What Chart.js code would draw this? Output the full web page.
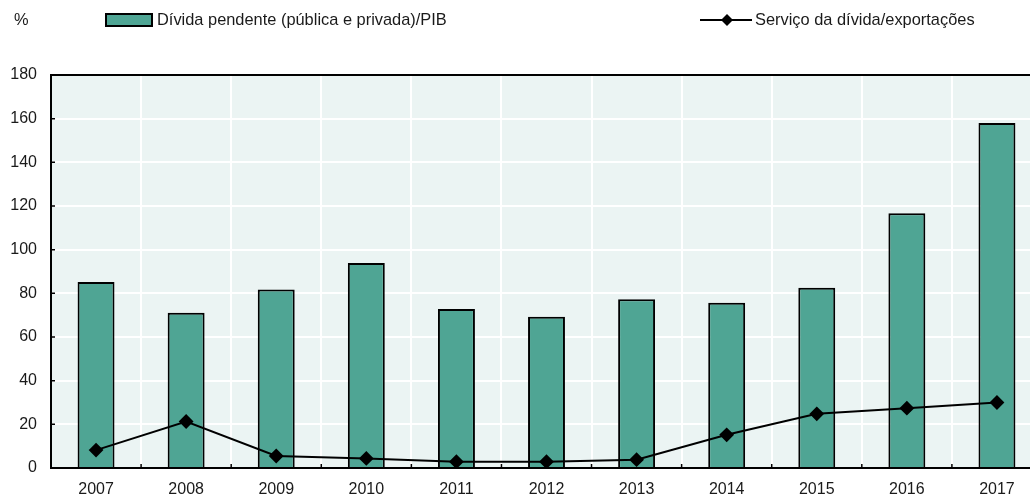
<!DOCTYPE html>
<html>
<head>
<meta charset="utf-8">
<script src="https://cdn.jsdelivr.net/npm/chart.js@4/dist/chart.umd.min.js"></script>
<style>
html,body{margin:0;padding:0;background:#fff;overflow:hidden;}
canvas{display:block;}
</style>
</head>
<body>
<canvas id="c" width="1050" height="498"></canvas>
<script>
// Dívida pendente vs serviço da dívida, 2007-2017
const years = ["2007","2008","2009","2010","2011","2012","2013","2014","2015","2016","2017"];
const debtGdp = [85.2, 71.1, 81.7, 93.9, 72.8, 69.3, 77.3, 75.7, 82.6, 116.7, 158.0];
const debtService = [8.2, 21.3, 5.5, 4.4, 2.9, 2.9, 3.8, 15.2, 24.8, 27.4, 30.0];
const yTicks = {min:0, max:180, step:20};
const labelBar = "Dívida pendente (pública e privada)/PIB";
const labelLine = "Serviço da dívida/exportações";

const FONT = "'Liberation Sans',Arial,sans-serif";
const C = {bar:"#4fa594", bg:"#ebf4f3", ink:"#1a1a1a"};

// plot background, frame lines, inner ticks, and the top legend
const deco = {
  id:"deco",
  beforeDraw(chart) {
    const {ctx, chartArea:a} = chart;
    ctx.save();
    ctx.fillStyle = C.bg;
    ctx.fillRect(a.left, a.top, a.right - a.left, a.bottom - a.top);
    ctx.restore();
  },
  afterDraw(chart) {
    const {ctx, chartArea:a, scales} = chart;
    ctx.save();
    ctx.strokeStyle = "#000";
    ctx.lineWidth = 2;
    ctx.beginPath();
    ctx.moveTo(a.left - 1, a.top); ctx.lineTo(a.right, a.top);
    ctx.stroke();
    // inner tick marks
    ctx.lineWidth = 1.5;
    ctx.beginPath();
    scales.y.ticks.forEach(t => {
      const y = scales.y.getPixelForValue(t.value);
      ctx.moveTo(a.left, y); ctx.lineTo(a.left + 4, y);
    });
    for (let i = 0; i < years.length - 1; i++) {
      const x = (scales.x.getPixelForValue(i) + scales.x.getPixelForValue(i + 1)) / 2;
      ctx.moveTo(x, a.bottom); ctx.lineTo(x, a.bottom - 4);
    }
    ctx.stroke();

    // legend
    ctx.font = "16.4px " + FONT;
    ctx.fillStyle = C.ink;
    ctx.textBaseline = "middle";
    ctx.fillText("%", 14, 20);
    ctx.fillStyle = C.bar;
    ctx.fillRect(106, 14, 46, 12);
    ctx.strokeStyle = "#000";
    ctx.lineWidth = 2;
    ctx.strokeRect(106, 14, 46, 12);
    ctx.fillStyle = C.ink;
    ctx.fillText(labelBar, 157, 20);
    ctx.beginPath();
    ctx.moveTo(700, 20); ctx.lineTo(752, 20);
    ctx.stroke();
    ctx.fillStyle = "#000";
    ctx.beginPath();
    ctx.moveTo(727, 14); ctx.lineTo(733, 20); ctx.lineTo(727, 26); ctx.lineTo(721, 20);
    ctx.closePath(); ctx.fill();
    ctx.fillStyle = C.ink;
    ctx.fillText(labelLine, 755, 20);
    ctx.restore();
  }
};

new Chart(document.getElementById("c"), {
  data:{labels:years, datasets:[
    {type:"line", label:labelLine, data:debtService, order:0,
     borderColor:"#000", borderWidth:2, backgroundColor:"#000",
     pointStyle:"rectRot", pointRadius:6, pointHoverRadius:6, tension:0},
    {type:"bar", label:labelBar, data:debtGdp, order:1,
     backgroundColor:C.bar, borderColor:"#000", borderWidth:2,
     barPercentage:0.41, categoryPercentage:1},
  ]},
  options:{
    responsive:false, animation:false,
    layout:{padding:{top:75, right:0, left:0, bottom:0}},
    plugins:{legend:{display:false}, tooltip:{enabled:false}},
    scales:{
      x:{
        grid:{color:"#fff", lineWidth:2, offset:true, drawTicks:false},
        border:{color:"#000", width:2},
        ticks:{color:C.ink, font:{family:FONT, size:16}, padding:12},
        afterFit:s => { s.height = 30; },
      },
      y:{
        min:yTicks.min, max:yTicks.max,
        grid:{color:"#fff", lineWidth:2, drawTicks:false},
        border:{color:"#000", width:2},
        ticks:{stepSize:yTicks.step, color:C.ink, font:{family:FONT, size:16}, padding:14},
        afterFit:s => { s.width = 51; },
      },
    },
  },
  plugins:[deco],
});
</script>
</body>
</html>
